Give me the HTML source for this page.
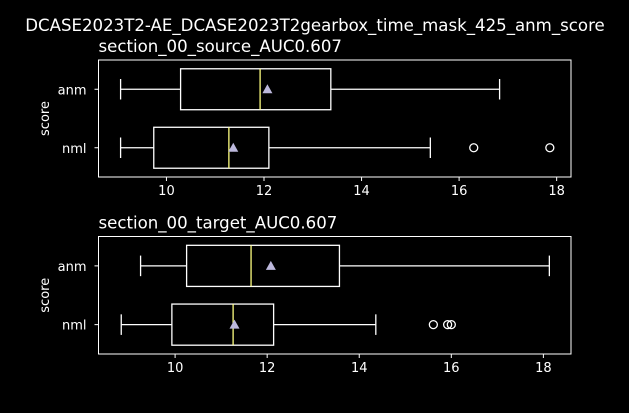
<!DOCTYPE html>
<html><head><meta charset="utf-8"><style>
html,body{margin:0;padding:0;background:#000;width:629px;height:413px;overflow:hidden}
svg text{font-family:"DejaVu Sans","Liberation Sans",sans-serif;fill:#fff}
</style></head><body>
<svg id="chart" width="629" height="413" xmlns="http://www.w3.org/2000/svg">
<rect width="629" height="413" fill="#000"/>
<text x="315" y="31" font-size="16.6" text-anchor="middle">DCASE2023T2-AE_DCASE2023T2gearbox_time_mask_425_anm_score</text>
</svg>
<script>
const categories = ["anm","nml"];
const panelTitles = ["section_00_source_AUC0.607","section_00_target_AUC0.607"];
const xTicks = [10,12,14,16,18];
// [whiskerLo, Q1, median, Q3, whiskerHi, mean]
const sourceAnm = [9.06,10.29,11.92,13.37,16.83,12.07];
const sourceNml = [9.06,9.74,11.28,12.10,15.41,11.37];
const sourceNmlOutliers = [16.30,17.86];
const sourceAnmOutliers = [];
const targetAnm = [9.25,10.25,11.65,13.57,18.13,12.08];
const targetNml = [8.83,9.93,11.26,12.14,14.36,11.29];
const targetNmlOutliers = [15.61,15.92,16.0];
const targetAnmOutliers = [];
const xDomains = [[8.607,18.294],[8.336,18.60]];

const svg = document.getElementById('chart');
const NS = 'http://www.w3.org/2000/svg';
function mk(tag, attrs, parent){const e=document.createElementNS(NS,tag);for(const k in attrs)e.setAttribute(k,attrs[k]);(parent||svg).appendChild(e);return e;}

const panels = [
 {top:60,bottom:177,data:[sourceAnm,sourceNml],outs:[sourceAnmOutliers,sourceNmlOutliers]},
 {top:236.5,bottom:354,data:[targetAnm,targetNml],outs:[targetAnmOutliers,targetNmlOutliers]}
];
const L=98.5,R=571;
panels.forEach((p,pi)=>{
  const g = mk('g',{});
  
  
  const dom = xDomains[pi];
  const x = v => L + (v-dom[0])/(dom[1]-dom[0])*(R-L);
  const h = p.bottom-p.top;
  const y = i => p.top + h*(0.25+0.5*i);
  const bh = h*0.35;
  const t = mk('text',{x:L,y:p.top-8,'font-size':16.6},g); t.textContent=panelTitles[pi];
  
  
  const yl = mk('text',{x:0,y:0,'font-size':13,'text-anchor':'middle',transform:`translate(49,${(p.top+p.bottom)/2}) rotate(-90)`},g); yl.textContent='score';
  
  
  xTicks.forEach(tv=>{
    const xx=x(tv);
    mk('line',{x1:xx,x2:xx,y1:p.bottom,y2:p.bottom+4,stroke:'#fff','stroke-width':1},g);
    const tl=mk('text',{x:xx,y:p.bottom+18,'font-size':13,'text-anchor':'middle'},g); tl.textContent=tv;
    
    
  });
  categories.forEach((c,i)=>{
    const yy=y(i), d=p.data[i];
    mk('line',{x1:L-4,x2:L,y1:yy,y2:yy,stroke:'#fff'},g);
    const cl=mk('text',{x:L-12,y:yy+5,'font-size':13,'text-anchor':'end'},g); cl.textContent=c;
    
    
    const bg = mk('g',{},g);
    
    
    mk('line',{x1:x(d[0]),x2:x(d[1]),y1:yy,y2:yy,stroke:'#fff','stroke-width':1.3},bg);
    mk('line',{x1:x(d[3]),x2:x(d[4]),y1:yy,y2:yy,stroke:'#fff','stroke-width':1.3},bg);
    [d[0],d[4]].forEach(v=>mk('line',{x1:x(v),x2:x(v),y1:yy-bh/4,y2:yy+bh/4,stroke:'#fff','stroke-width':1.3},bg));
    mk('rect',{x:x(d[1]),y:yy-bh/2,width:x(d[3])-x(d[1]),height:bh,fill:'none',stroke:'#fff','stroke-width':1.3},bg);
    mk('line',{x1:x(d[2]),x2:x(d[2]),y1:yy-bh/2,y2:yy+bh/2,stroke:'#ffff80','stroke-width':1.3},bg);
    const mx=x(d[5]);
    mk('polygon',{points:`${mx},${yy-5} ${mx-5},${yy+4} ${mx+5},${yy+4}`,fill:'#bcb8dc'},bg);
    p.outs[i].forEach(v=>{
      const o=mk('circle',{cx:x(v),cy:yy,r:4,fill:'none',stroke:'#fff','stroke-width':1.3},bg);
      
      
    });
  });
  mk('rect',{x:L,y:p.top,width:R-L,height:h,fill:'none',stroke:'#fff','stroke-width':1},g);
});
</script>
</body></html>
